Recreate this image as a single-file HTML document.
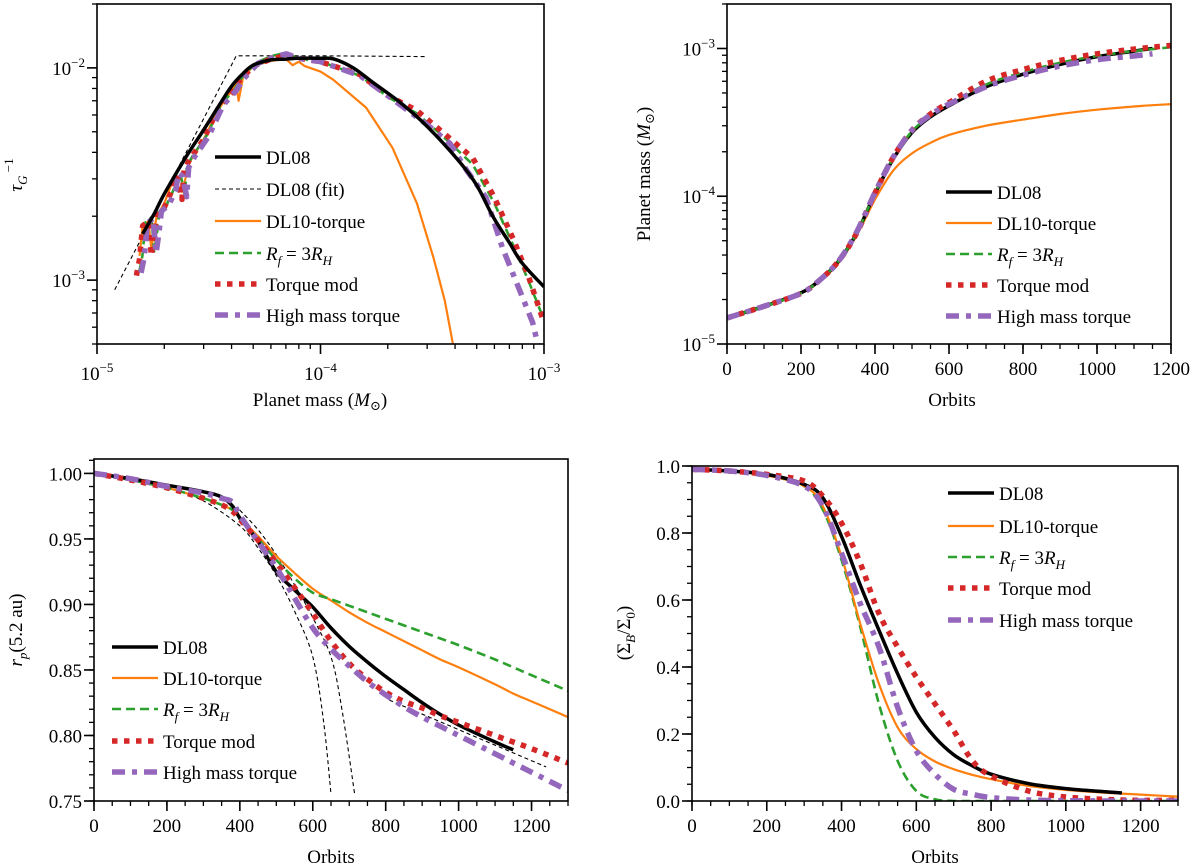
<!DOCTYPE html>
<html><head><meta charset="utf-8"><style>
html,body{margin:0;padding:0;background:#fff;}
svg{display:block;font-family:"Liberation Serif","DejaVu Serif",serif;}
</style></head><body>
<svg id="fig" width="1200" height="868" viewBox="0 0 1200 868" xmlns="http://www.w3.org/2000/svg"></svg>
<script>
// ---------- Panel 1 data (mass, tau_G^-1) ----------
const p1_dl08_m=[1.6e-5,1.8e-5,2e-5,2.5e-5,3e-5,3.5e-5,4e-5,4.5e-5,5e-5,6e-5,7e-5,8e-5,1e-4,1.15e-4,1.4e-4,1.7e-4,2.3e-4,3e-4,4.2e-4,5e-4,5.9e-4,7e-4,8e-4,1e-3];
const p1_dl08_r=[1.65e-3,2.05e-3,2.55e-3,3.8e-3,5.1e-3,6.6e-3,8.2e-3,9.4e-3,1.03e-2,1.09e-2,1.1e-2,1.11e-2,1.11e-2,1.1e-2,1.0e-2,8.6e-3,6.8e-3,5.3e-3,3.6e-3,2.8e-3,2.0e-3,1.5e-3,1.2e-3,9.3e-4];
const p1_fit_m=[1.2e-5,4.2e-5,1e-4,3e-4];
const p1_fit_r=[9e-4,1.14e-2,1.14e-2,1.13e-2];
const p1_low_m=[1.5e-5,1.55e-5,1.6e-5,1.7e-5,1.75e-5,1.8e-5,1.85e-5,2e-5,2.15e-5,2.2e-5,2.3e-5,2.4e-5,2.45e-5,2.6e-5,3e-5,3.5e-5,4e-5,4.3e-5,5e-5,6e-5,6.7e-5];
const p1_low_r=[1.05e-3,1.25e-3,1.8e-3,1.9e-3,1.3e-3,1.6e-3,2.05e-3,2.2e-3,2.6e-3,3.1e-3,3.0e-3,2.4e-3,3.3e-3,3.7e-3,4.6e-3,6.5e-3,7.6e-3,8.6e-3,1.02e-2,1.1e-2,1.13e-2];
const p1_dl10_m=[1.55e-5,1.6e-5,1.7e-5,1.75e-5,1.8e-5,1.85e-5,2e-5,2.2e-5,2.4e-5,2.6e-5,3e-5,3.5e-5,4e-5,4.2e-5,4.3e-5,4.5e-5,5e-5,6e-5,7e-5,7.5e-5,8e-5,8.5e-5,1e-4,1.14e-4,1.6e-4,2.1e-4,2.7e-4,3.2e-4,3.6e-4,3.9e-4,4.1e-4];
const p1_dl10_r=[1.3e-3,1.8e-3,1.9e-3,1.4e-3,1.7e-3,2.0e-3,2.3e-3,3.0e-3,2.6e-3,3.6e-3,4.6e-3,6.4e-3,7.8e-3,8.4e-3,7.0e-3,9.0e-3,1.02e-2,1.08e-2,1.1e-2,1.03e-2,1.07e-2,1.02e-2,9.6e-3,8.8e-3,6.5e-3,4.2e-3,2.3e-3,1.28e-3,8e-4,5.1e-4,4e-4];
const p1_gr_m=[8e-5,1e-4,1.5e-4,2e-4,2.7e-4,3.5e-4,4.8e-4,6e-4,7.3e-4,8.5e-4,1e-3];
const p1_green_r=[1.11e-2,1.07e-2,9.2e-3,7.3e-3,6.1e-3,4.8e-3,3.5e-3,2.3e-3,1.45e-3,1.0e-3,6.5e-4];
const p1_red_r=[1.11e-2,1.07e-2,9.3e-3,7.4e-3,6.3e-3,5.0e-3,3.76e-3,2.45e-3,1.55e-3,1.05e-3,6.3e-4];
const p1_pu_m=[8e-5,1e-4,1.5e-4,2e-4,3e-4,3.8e-4,4.5e-4,5.5e-4,6.5e-4,7.8e-4,8.9e-4,9.6e-4];
const p1_purple_r=[1.11e-2,1.07e-2,9.2e-3,7.4e-3,5.4e-3,4.4e-3,3.3e-3,2.45e-3,1.43e-3,8.9e-4,6.3e-4,4.5e-4];
// ---------- Panel 2 data (orbits, mass) ----------
const p2_t=[0,100,200,250,300,350,400,450,500,550,600,700,800,900,1000,1100,1150,1200];
const p2_dl08=[1.5e-5,1.8e-5,2.22e-5,2.7e-5,3.6e-5,5.6e-5,1.04e-4,1.8e-4,2.7e-4,3.45e-4,4.1e-4,5.5e-4,6.7e-4,7.8e-4,8.8e-4,9.6e-4,1.0e-3,null];
const p2_dl10=[1.5e-5,1.8e-5,2.2e-5,2.65e-5,3.5e-5,5.4e-5,9.5e-5,1.5e-4,1.95e-4,2.3e-4,2.6e-4,3.0e-4,3.3e-4,3.6e-4,3.85e-4,4.05e-4,4.13e-4,4.2e-4];
const p2_green=[1.5e-5,1.8e-5,2.2e-5,2.7e-5,3.6e-5,5.6e-5,1.05e-4,1.82e-4,2.75e-4,3.5e-4,4.2e-4,5.7e-4,6.9e-4,8.0e-4,8.9e-4,9.6e-4,9.9e-4,1.02e-3];
const p2_red=[1.5e-5,1.8e-5,2.2e-5,2.7e-5,3.6e-5,5.6e-5,1.05e-4,1.85e-4,2.8e-4,3.6e-4,4.3e-4,6.0e-4,7.2e-4,8.3e-4,9.2e-4,9.9e-4,1.02e-3,1.05e-3];
const p2_purple=[1.5e-5,1.8e-5,2.2e-5,2.7e-5,3.6e-5,5.7e-5,1.06e-4,1.85e-4,2.8e-4,3.55e-4,4.2e-4,5.5e-4,6.6e-4,7.6e-4,8.4e-4,8.9e-4,9.2e-4,null];
// ---------- Panel 3 data (orbits, r_p) ----------
const p3_t=[0,100,200,300,350,380,400,450,500,550,600,650,700,750,800,850,900,950,1000,1100,1150,1200,1300];
const p3_dl08=[1.0,0.996,0.991,0.986,0.982,0.975,0.966,0.948,0.925,0.911,0.898,0.882,0.868,0.856,0.845,0.835,0.825,0.816,0.808,0.795,0.789,null,null];
const p3_dl10=[1.0,0.995,0.989,0.981,0.976,0.972,0.966,0.952,0.937,0.924,0.912,0.903,0.894,0.886,0.879,0.872,0.865,0.858,0.852,0.839,0.832,0.826,0.814];
const p3_green=[1.0,0.995,0.989,0.981,0.976,0.972,0.965,0.95,0.934,0.92,0.909,0.904,0.899,0.894,0.889,0.884,0.879,0.874,0.869,0.858,0.852,0.846,0.834];
const p3_red=[1.0,0.995,0.989,0.981,0.976,0.971,0.965,0.949,0.932,0.913,0.893,0.872,0.855,0.843,0.833,0.826,0.821,0.815,0.810,0.800,0.795,0.790,0.779];
const p3_purple=[1.0,0.996,0.99,0.985,0.981,0.978,0.968,0.948,0.928,0.905,0.882,0.866,0.853,0.841,0.831,0.822,0.814,0.807,0.8,0.786,0.779,0.772,0.758];
const p3_fitA_t=[0,200,300,400,450,500,550,600,630,650];
const p3_fitA_r=[1.0,0.989,0.979,0.96,0.943,0.922,0.895,0.86,0.81,0.755];
const p3_fitB_t=[400,450,500,550,600,650,680,715];
const p3_fitB_r=[0.972,0.957,0.938,0.915,0.89,0.86,0.82,0.755];
const p3_fitC_t=[810,1240];
const p3_fitC_r=[0.827,0.776];
// ---------- Panel 4 data (orbits, Sigma_B/Sigma_0) ----------
const p4_t=[0,100,200,300,350,400,450,500,550,600,650,700,750,800,900,1000,1100,1150,1200,1300];
const p4_dl08=[0.99,0.985,0.975,0.945,0.905,0.79,0.645,0.51,0.38,0.265,0.19,0.138,0.105,0.08,0.052,0.037,0.028,0.024,null,null];
const p4_dl10=[0.99,0.985,0.972,0.94,0.88,0.73,0.53,0.35,0.22,0.155,0.118,0.095,0.078,0.065,0.045,0.033,0.025,0.022,0.019,0.013];
const p4_green=[0.99,0.985,0.972,0.94,0.87,0.72,0.52,0.29,0.12,0.03,0.005,0.0,0,0,0,0,0,0,0,0];
const p4_red=[0.99,0.985,0.975,0.955,0.91,0.83,0.71,0.56,0.46,0.37,0.29,0.21,0.12,0.075,0.03,0.012,0.005,0.003,0.002,0.002];
const p4_purple=[0.99,0.985,0.972,0.94,0.88,0.74,0.59,0.46,0.28,0.15,0.08,0.035,0.02,0.01,0.003,0.001,0,0,0,0];

const NS='http://www.w3.org/2000/svg';
const fig=document.getElementById('fig');
function mk(tag,attrs,parent){const e=document.createElementNS(NS,tag);for(const k in attrs)e.setAttribute(k,attrs[k]);(parent||fig).appendChild(e);return e;}
const L10=Math.log10;
function axis(cfg){
  const a=Object.assign({},cfg);
  a.fx=v=>{const t=a.xlog?(L10(v)-L10(a.xr[0]))/(L10(a.xr[1])-L10(a.xr[0])):(v-a.xr[0])/(a.xr[1]-a.xr[0]);return a.x0+t*(a.x1-a.x0);};
  a.fy=v=>{const t=a.ylog?(L10(v)-L10(a.yr[0]))/(L10(a.yr[1])-L10(a.yr[0])):(v-a.yr[0])/(a.yr[1]-a.yr[0]);return a.y1-t*(a.y1-a.y0);};
  return a;
}
const STY={
 dl08:{stroke:'#000',w:3.5,dash:'none',name:'DL08'},
 fit:{stroke:'#000',w:1.1,dash:'4,3',name:'DL08 (fit)'},
 dl10:{stroke:'#ff7f0e',w:2.2,dash:'none',name:'DL10-torque'},
 green:{stroke:'#2ca02c',w:2.6,dash:'9,5',name:'Rf = 3RH'},
 red:{stroke:'#d62728',w:5.5,dash:'5.5,6.5',name:'Torque mod'},
 purple:{stroke:'#9467bd',w:5.5,dash:'13,7,5,7',name:'High mass torque'}
};
function pathD(a,xs,ys,smooth){
  const pts=[];for(let i=0;i<xs.length;i++){if(ys[i]===null||ys[i]===undefined)continue;pts.push([a.fx(xs[i]),a.fy(ys[i])]);}
  if(!smooth||pts.length<3)return 'M'+pts.map(p=>p[0].toFixed(1)+','+p[1].toFixed(1)).join('L');
  let d='M'+pts[0][0].toFixed(1)+','+pts[0][1].toFixed(1);
  for(let i=0;i<pts.length-1;i++){const p0=pts[i-1]||pts[i],p1=pts[i],p2=pts[i+1],p3=pts[i+2]||p2;
    const c1=[p1[0]+(p2[0]-p0[0])/6,p1[1]+(p2[1]-p0[1])/6],c2=[p2[0]-(p3[0]-p1[0])/6,p2[1]-(p3[1]-p1[1])/6];
    d+='C'+c1.map(v=>v.toFixed(1))+' '+c2.map(v=>v.toFixed(1))+' '+p2[0].toFixed(1)+','+p2[1].toFixed(1);}
  return d;
}
function series(a,g,key,xs,ys,smooth,name){
  const s=STY[key];
  const p=mk('path',{d:pathD(a,xs,ys,smooth),fill:'none',stroke:s.stroke,'stroke-width':s.w,'stroke-dasharray':s.dash,'stroke-linejoin':'round'},g);
  
  
  return p;
}
function frame(a,pid){
  const cp=mk('clipPath',{id:'cp'+pid});mk('rect',{x:a.x0,y:a.y0,width:a.x1-a.x0,height:a.y1-a.y0},cp);
  const g=mk('g',{'clip-path':'url(#cp'+pid+')'});
  
  
  return g;
}
function drawBox(a,pid){
  const r=mk('rect',{x:a.x0,y:a.y0,width:a.x1-a.x0,height:a.y1-a.y0,fill:'none',stroke:'#000','stroke-width':1.6});
  
  
}
function tick(x1,y1,x2,y2,w){mk('line',{x1,y1,x2,y2,stroke:'#000','stroke-width':w||1.5});}
function logLabel(x,y,exp,anchor,nm){
  const t=mk('text',{x,y,'font-size':19,'text-anchor':anchor});
  
  
  t.appendChild(document.createTextNode('10'));
  const s=mk('tspan',{dy:-8,'font-size':13},t);s.textContent='−'+exp;
}
function linLabel(x,y,txt,anchor,nm){
  const t=mk('text',{x,y,'font-size':19,'text-anchor':anchor});t.textContent=txt;
  
  
}
function xTicksLin(a,major,minorStep,pid){
  for(let v=a.xr[0];v<=a.xr[1]+1e-9;v+=minorStep){tick(a.fx(v),a.y1,a.fx(v),a.y1+5,1.3);}
  major.forEach(v=>{tick(a.fx(v),a.y1,a.fx(v),a.y1+10,1.6);linLabel(a.fx(v),a.y1+31,String(v),'middle','x-tick-label-'+pid);});
}
function yTicksLin(a,major,fmt,minorStep,pid){
  for(let v=a.yr[0];v<=a.yr[1]+1e-9;v+=minorStep){tick(a.x0-5,a.fy(v),a.x0,a.fy(v),1.3);}
  major.forEach(v=>{tick(a.x0-10,a.fy(v),a.x0,a.fy(v),1.6);linLabel(a.x0-12,a.fy(v)+7,v.toFixed(fmt),'end','y-tick-label-'+pid);});
}
function logMinors(lo,hi){const out=[];for(let d=Math.floor(L10(lo));d<=Math.ceil(L10(hi));d++){for(let k=1;k<10;k++){const v=k*Math.pow(10,d);if(v>=lo*0.999&&v<=hi*1.001)out.push([v,k===1]);}}return out;}
function legend(x,ys,keys,labels,pid){
  const g=mk('g',{});
  
  
  keys.forEach((k,i)=>{const s=STY[k];
    const ln=mk('line',{x1:x,y1:ys[i],x2:x+46,y2:ys[i],stroke:s.stroke,'stroke-width':s.w,'stroke-dasharray':s.dash},g);
    
    
    const t=mk('text',{x:x+51,y:ys[i]+7,'font-size':19},g);
    
    
    if(labels[i]==='RF'){const i1=mk('tspan',{'font-style':'italic'},t);i1.textContent='R';const s1=mk('tspan',{'font-style':'italic','font-size':13,dy:5},t);s1.textContent='f';
      const m=mk('tspan',{dy:-5},t);m.textContent=' = 3';const i2=mk('tspan',{'font-style':'italic'},t);i2.textContent='R';const s2=mk('tspan',{'font-style':'italic','font-size':13,dy:5},t);s2.textContent='H';}
    else t.textContent=labels[i];
  });
}
function rotLabel(x,y,build,nm){
  const t=mk('text',{x:0,y:0,'font-size':19,'text-anchor':'middle',transform:`translate(${x},${y}) rotate(-90)`});
  
  
  build(t);
}
function msun(t){const a=mk('tspan',{},t);a.textContent='(';const b=mk('tspan',{'font-style':'italic'},t);b.textContent='M';const c=mk('tspan',{'font-size':13,dy:4},t);c.textContent='⊙';const d=mk('tspan',{dy:-4},t);d.textContent=')';}

// ===== Panel 1 =====
const A1=axis({x0:97,x1:544,y0:4,y1:344,xr:[1e-5,1e-3],yr:[5e-4,2e-2],xlog:true,ylog:true});
{const g=frame(A1,1);
 series(A1,g,'fit',p1_fit_m,p1_fit_r,false,'dl08-fit-line');
 series(A1,g,'dl10',p1_dl10_m,p1_dl10_r,false,'dl10-torque-line');
 series(A1,g,'green',p1_low_m.map(v=>v*1.03).concat(p1_gr_m),p1_low_r.map(v=>v*1.04).concat(p1_green_r),false,'rf-3rh-line');
 series(A1,g,'red',p1_low_m.concat(p1_gr_m),p1_low_r.concat(p1_red_r),false,'torque-mod-line');
 series(A1,g,'purple',p1_low_m.map(v=>v*1.05).concat(p1_pu_m),p1_low_r.map(v=>v*1.03).concat(p1_purple_r),false,'high-mass-torque-line');
 series(A1,g,'dl08',p1_dl08_m,p1_dl08_r,true,'dl08-line');
 drawBox(A1,1);
 logMinors(1e-5,1e-3).forEach(([v,maj])=>tick(A1.fx(v),A1.y1,A1.fx(v),A1.y1+(maj?10:5),maj?1.6:1.3));
 logMinors(5e-4,2e-2).forEach(([v,maj])=>tick(A1.x0-(maj?10:5),A1.fy(v),A1.x0,A1.fy(v),maj?1.6:1.3));
 [[1e-5,5],[1e-4,4],[1e-3,3]].forEach(([v,e])=>logLabel(A1.fx(v),A1.y1+36,e,'middle','x-tick-label-1'));
 [[1e-3,3],[1e-2,2]].forEach(([v,e])=>logLabel(A1.x0-12,A1.fy(v)+7,e,'end','y-tick-label-1'));
 const xl=mk('text',{x:320,y:406,'font-size':19,'text-anchor':'middle'});
 const xt=mk('tspan',{},xl);xt.textContent='Planet mass ';msun(xl);
 rotLabel(22,175,t=>{const a=mk('tspan',{'font-style':'italic'},t);a.textContent='τ';const b=mk('tspan',{'font-style':'italic','font-size':13,dy:5},t);b.textContent='G';const c=mk('tspan',{'font-size':13,dy:-14},t);c.textContent=' −1';},'y-axis-title-1');
 legend(215,[157,189,221,253,284,315],['dl08','fit','dl10','green','red','purple'],['DL08','DL08 (fit)','DL10-torque','RF','Torque mod','High mass torque'],1);
}
// ===== Panel 2 =====
const A2=axis({x0:727,x1:1171,y0:4,y1:344,xr:[0,1200],yr:[1e-5,2e-3],xlog:false,ylog:true});
{const g=frame(A2,2);
 series(A2,g,'dl10',p2_t,p2_dl10,true,'dl10-torque-line');
 series(A2,g,'dl08',p2_t,p2_dl08,true,'dl08-line');
 series(A2,g,'green',p2_t,p2_green,true,'rf-3rh-line');
 series(A2,g,'red',p2_t,p2_red,true,'torque-mod-line');
 series(A2,g,'purple',p2_t,p2_purple,true,'high-mass-torque-line');
 drawBox(A2,2);
 xTicksLin(A2,[0,200,400,600,800,1000,1200],50,2);
 logMinors(1e-5,2e-3).forEach(([v,maj])=>tick(A2.x0-(maj?10:5),A2.fy(v),A2.x0,A2.fy(v),maj?1.6:1.3));
 [[1e-5,5],[1e-4,4],[1e-3,3]].forEach(([v,e])=>logLabel(A2.x0-12,A2.fy(v)+7,e,'end','y-tick-label-2'));
 linLabel(952,406,'Orbits','middle','x-axis-title-2');
 rotLabel(650,174,t=>{const a=mk('tspan',{},t);a.textContent='Planet mass ';msun(t);},'y-axis-title-2');
 legend(946,[192,223,254,285,316],['dl08','dl10','green','red','purple'],['DL08','DL10-torque','RF','Torque mod','High mass torque'],2);
}
// ===== Panel 3 =====
const A3=axis({x0:94,x1:568,y0:459,y1:801,xr:[0,1300],yr:[0.75,1.011],xlog:false,ylog:false});
{const g=frame(A3,3);
 series(A3,g,'fit',p3_fitA_t,p3_fitA_r,true,'fit-line-a');
 series(A3,g,'fit',p3_fitB_t,p3_fitB_r,true,'fit-line-b');
 series(A3,g,'fit',p3_fitC_t,p3_fitC_r,false,'fit-line-c');
 series(A3,g,'dl10',p3_t,p3_dl10,true,'dl10-torque-line');
 series(A3,g,'green',p3_t,p3_green,true,'rf-3rh-line');
 series(A3,g,'dl08',p3_t,p3_dl08,true,'dl08-line');
 series(A3,g,'red',p3_t,p3_red,true,'torque-mod-line');
 series(A3,g,'purple',p3_t,p3_purple,true,'high-mass-torque-line');
 drawBox(A3,3);
 xTicksLin(A3,[0,200,400,600,800,1000,1200],50,3);
 for(let v=0.75;v<=1.0105;v+=0.01)tick(A3.x0-5,A3.fy(v),A3.x0,A3.fy(v),1.3);
 [0.75,0.8,0.85,0.9,0.95,1.0].forEach(v=>{tick(A3.x0-10,A3.fy(v),A3.x0,A3.fy(v),1.6);linLabel(A3.x0-12,A3.fy(v)+7,v.toFixed(2),'end','y-tick-label-3');});
 linLabel(331,863,'Orbits','middle','x-axis-title-3');
 rotLabel(22,630,t=>{const a=mk('tspan',{'font-style':'italic'},t);a.textContent='r';const b=mk('tspan',{'font-style':'italic','font-size':13,dy:5},t);b.textContent='p';const c=mk('tspan',{dy:-5},t);c.textContent='(5.2 au)';},'y-axis-title-3');
 legend(112,[647,678,709,741,772],['dl08','dl10','green','red','purple'],['DL08','DL10-torque','RF','Torque mod','High mass torque'],3);
}
// ===== Panel 4 =====
const A4=axis({x0:692,x1:1178,y0:466,y1:801,xr:[0,1300],yr:[0,1],xlog:false,ylog:false});
{const g=frame(A4,4);
 series(A4,g,'green',p4_t,p4_green,true,'rf-3rh-line');
 series(A4,g,'dl10',p4_t,p4_dl10,true,'dl10-torque-line');
 series(A4,g,'dl08',p4_t,p4_dl08,true,'dl08-line');
 series(A4,g,'red',p4_t,p4_red,true,'torque-mod-line');
 series(A4,g,'purple',p4_t,p4_purple,true,'high-mass-torque-line');
 drawBox(A4,4);
 xTicksLin(A4,[0,200,400,600,800,1000,1200],50,4);
 yTicksLin(A4,[0,0.2,0.4,0.6,0.8,1.0],1,0.05,4);
 linLabel(935,863,'Orbits','middle','x-axis-title-4');
 rotLabel(630,633,t=>{const a=mk('tspan',{},t);a.textContent='(Σ';const b=mk('tspan',{'font-style':'italic','font-size':13,dy:5},t);b.textContent='B';const c=mk('tspan',{dy:-5},t);c.textContent='/Σ';const d=mk('tspan',{'font-size':13,dy:5},t);d.textContent='0';const e=mk('tspan',{dy:-5},t);e.textContent=')';},'y-axis-title-4');
 legend(948,[493,526,557,588,620],['dl08','dl10','green','red','purple'],['DL08','DL10-torque','RF','Torque mod','High mass torque'],4);
}
</script>
</body></html>
